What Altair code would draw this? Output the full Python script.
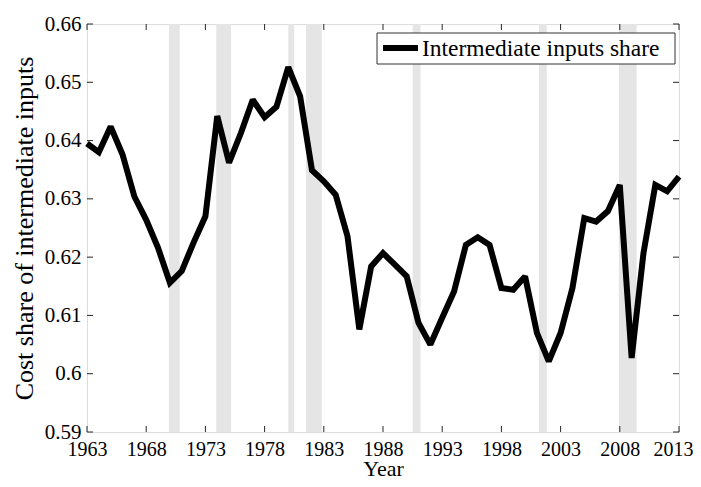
import altair as alt
import pandas as pd

years = list(range(1963, 2014))
share = [0.6395, 0.6380, 0.6424, 0.6376, 0.6304, 0.6264, 0.6216, 0.6156, 0.6176, 0.6225,
         0.6270, 0.6442, 0.6362, 0.6413, 0.6470, 0.6440, 0.6458, 0.6526, 0.6476, 0.6349,
         0.6330, 0.6307, 0.6236, 0.6076, 0.6184, 0.6207, 0.6187, 0.6167, 0.6087, 0.6050,
         0.6096, 0.6141, 0.6221, 0.6234, 0.6221, 0.6147, 0.6144, 0.6167, 0.6070, 0.6021,
         0.6070, 0.6147, 0.6267, 0.6261, 0.6279, 0.6324, 0.6027, 0.6207, 0.6324, 0.6313,
         0.6338]

rec_start = [1969.92, 1973.92, 1980.0, 1981.5, 1990.5, 2001.17, 2007.92]
rec_end = [1970.83, 1975.17, 1980.5, 1982.83, 1991.17, 2001.83, 2009.42]

x_ticks = [1963, 1968, 1973, 1978, 1983, 1988, 1993, 1998, 2003, 2008, 2013]
y_ticks = [0.59, 0.60, 0.61, 0.62, 0.63, 0.64, 0.65, 0.66]
legend_label = ["Intermediate inputs share"]

W, H = 592, 408
FONT = "Liberation Serif"
AX = "#262626"

df = pd.DataFrame({"year": years, "share": share})
rec = pd.DataFrame({"start": rec_start, "end": rec_end})
xt = pd.DataFrame({"t": x_ticks})
yt = pd.DataFrame({"t": y_ticks})
lg = pd.DataFrame({"label": legend_label})

xscale = alt.Scale(domain=[1963, 2013], nice=False, zero=False)
yscale = alt.Scale(domain=[0.59, 0.66], nice=False, zero=False)

bands = alt.Chart(rec).mark_rect(color="#e5e5e5").encode(
    x=alt.X("start:Q", scale=xscale,
            axis=alt.Axis(values=x_ticks, format="d", title="Year", ticks=False,
                          domain=False, grid=False, labelFont=FONT, labelFontSize=20,
                          labelColor="#000", labelPadding=7, titleFont=FONT,
                          titleFontSize=22, titleFontWeight="normal", titleColor="#000",
                          titleBaseline="alphabetic", titleY=43, labelFlush=False,
                          labelOffset={"condition": {"test": "datum.value == 2013", "value": -6},
                                       "value": 0})),
    x2="end:Q",
)

line = alt.Chart(df).mark_line(color="black", strokeWidth=6, strokeJoin="miter", strokeMiterLimit=2).encode(
    x=alt.X("year:Q", scale=xscale),
    y=alt.Y("share:Q", scale=yscale,
            axis=alt.Axis(values=y_ticks, format=".2~f", title="Cost share of intermediate inputs",
                          ticks=False, domain=False, grid=False, labelFont=FONT,
                          labelFontSize=21, labelColor="#000", labelPadding=6,
                          titleFont=FONT, titleFontSize=26, titleFontWeight="normal",
                          titleColor="#000", titlePadding=7, labelFlush=False)),
)

tb = alt.Chart(xt).mark_rule(color=AX, strokeWidth=1).encode(
    x=alt.X("t:Q", scale=xscale), y=alt.value(H), y2=alt.value(H - 6))
tt = alt.Chart(xt).mark_rule(color=AX, strokeWidth=1).encode(
    x=alt.X("t:Q", scale=xscale), y=alt.value(0), y2=alt.value(6))
tl = alt.Chart(yt).mark_rule(color=AX, strokeWidth=1).encode(
    y=alt.Y("t:Q", scale=yscale), x=alt.value(0), x2=alt.value(6))
tr = alt.Chart(yt).mark_rule(color=AX, strokeWidth=1).encode(
    y=alt.Y("t:Q", scale=yscale), x=alt.value(W), x2=alt.value(W - 6))

lbox = alt.Chart(lg).mark_rect(fill="white", stroke="#333333", strokeWidth=1).encode(
    x=alt.value(290), x2=alt.value(588), y=alt.value(9), y2=alt.value(40))
lline = alt.Chart(lg).mark_rule(color="black", strokeWidth=6).encode(
    x=alt.value(296), x2=alt.value(331), y=alt.value(24))
ltext = alt.Chart(lg).mark_text(align="left", baseline="middle", font=FONT, fontSize=23.5,
                                color="black").encode(
    x=alt.value(335), y=alt.value(25), text="label:N")

chart = alt.layer(bands, line, tb, tt, tl, tr, lbox, lline, ltext).properties(
    width=W, height=H,
    autosize=alt.AutoSizeParams(type="none"),
    padding={"left": 79, "top": 16, "right": 14, "bottom": 47},
).configure_view(stroke=AX, strokeWidth=1).configure(background="white")

chart.save("out.html", embed_options={"renderer": "svg", "actions": False})
